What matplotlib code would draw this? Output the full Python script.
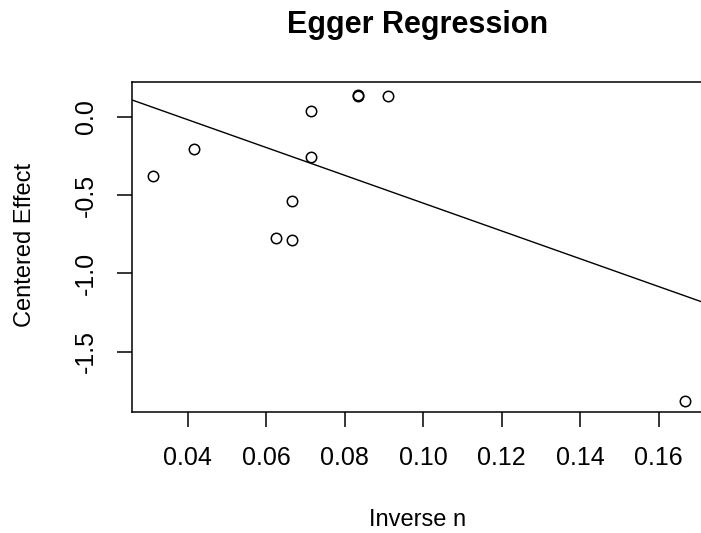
import matplotlib
matplotlib.use("Agg")
import matplotlib.pyplot as plt

# data
inverse_n = [0.03125, 0.04167, 0.0625, 0.06667, 0.06667, 0.07143, 0.07143,
             0.08333, 0.08333, 0.09091, 0.16667]
centered_effect = [-0.38, -0.206, -0.773, -0.54, -0.785, 0.038, -0.259,
                   0.14, 0.13, 0.13, -1.813]
fit_intercept = 0.336
fit_slope = -8.88

xticks = [0.04, 0.06, 0.08, 0.10, 0.12, 0.14, 0.16]
yticks = [0.0, -0.5, -1.0, -1.5]

plt.rcParams['font.family'] = ['Liberation Sans', 'DejaVu Sans']

fig = plt.figure(figsize=(7.01, 5.33), dpi=100)
ax = fig.add_axes([132/701, (533-412)/533, 1 - 132/701, (412-82)/533])

ax.plot(inverse_n, centered_effect, 'o', mfc='none', mec='black',
        ms=7.5, mew=1.1)
ax.axline((0, fit_intercept), slope=fit_slope, color='black', lw=1.0)

ax.set_xlim(0.0258, 0.1708)
ax.set_ylim(-1.886, 0.2216)
ax.set_xticks(xticks)
ax.set_xticklabels(['%.2f' % v for v in xticks])
ax.set_yticks(yticks)
ax.set_yticklabels(['%.1f' % v for v in yticks])

for s in ['left', 'top', 'bottom']:
    ax.spines[s].set_linewidth(1.1)
ax.spines['right'].set_visible(False)

ax.tick_params(axis='x', length=10.5, width=1.1, pad=14, labelsize=18)
ax.tick_params(axis='y', length=10.5, width=1.1, pad=14, labelsize=18,
               labelrotation=90)
for t in ax.get_yticklabels():
    t.set_va('center')

fig.text(418/701, 1 - 33/533, 'Egger Regression', ha='center',
         va='baseline', fontsize=22, fontweight='bold')
fig.text(418/701, 1 - 520/533, 'Inverse n', ha='center', va='center',
         fontsize=17)
fig.text(25/701, 1 - 245/533, 'Centered Effect', ha='center', va='center',
         rotation=90, fontsize=17)

fig.savefig('out.png', dpi=100)
